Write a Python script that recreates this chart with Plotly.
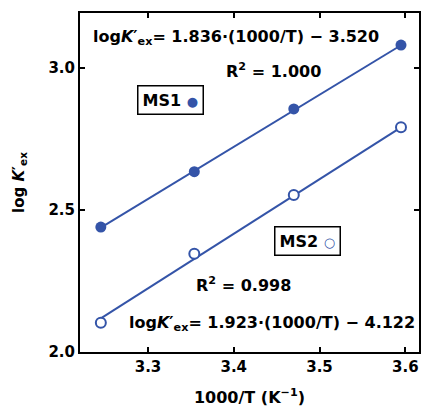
import plotly.graph_objects as go

inv_T = [3.245, 3.354, 3.470, 3.595]
ms1_logK = [2.440, 2.635, 2.856, 3.081]
ms2_logK = [2.103, 2.346, 2.553, 2.792]
fit_ms1 = (1.836, -3.520)
fit_ms2 = (1.923, -4.122)
x_ticks = [3.3, 3.4, 3.5, 3.6]
y_ticks = [2.0, 2.5, 3.0]

blue = "#3454a8"
FONT = "DejaVu Sans"

fig = go.Figure()
xr = [inv_T[0], inv_T[-1]]
for (m, b) in (fit_ms1, fit_ms2):
    fig.add_trace(go.Scatter(x=xr, y=[m * v + b for v in xr], mode="lines",
                             line=dict(color=blue, width=2), showlegend=False, hoverinfo="skip"))
fig.add_trace(go.Scatter(x=inv_T, y=ms1_logK, mode="markers", name="MS1",
                         marker=dict(color=blue, size=11, symbol="circle"), showlegend=False))
fig.add_trace(go.Scatter(x=inv_T, y=ms2_logK, mode="markers", name="MS2",
                         marker=dict(color="white", size=10, symbol="circle",
                                     line=dict(color=blue, width=2)), showlegend=False))

tfont = dict(family=FONT, size=15, color="black", weight="bold")
afont = dict(family=FONT, size=16, color="black", weight="bold")
axis_common = dict(showline=True, linecolor="black", linewidth=2, mirror="ticks",
                   ticks="inside", ticklen=5, tickwidth=2, tickcolor="black",
                   showgrid=False, zeroline=False, automargin=False, tickfont=tfont)
fig.update_xaxes(range=[3.2207, 3.616], tickvals=x_ticks, ticktext=[f"{v:.1f}" for v in x_ticks],
                 title=dict(text="1000/T (K<sup>−1</sup>)", standoff=17,
                            font=dict(family=FONT, size=16, color="black", weight="bold")),
                 **axis_common)
fig.update_yaxes(range=[2.0, 3.194], tickvals=y_ticks, ticktext=[f"{v:.1f}" for v in y_ticks],
                 title=dict(text="log <i>K</i>′<sub>ex</sub>", standoff=20, font=tfont),
                 **axis_common)

W, H = 422, 408
L, T, R, B = 80, 13, 3, 56
def px(xp): return (xp - L) / (W - L - R)
def py(yp): return 1 - (yp - T) / (H - T - B)

def ann(text, x, y, xanchor="left", **kw):
    fig.add_annotation(text=text, x=x, y=y, xref="paper", yref="paper", xanchor=xanchor,
                       yanchor="middle", showarrow=False, font=afont, **kw)

ann("log<i>K</i>′<sub>ex</sub>= 1.836·(1000/T) − 3.520", px(91), py(37))
ann("R<sup>2</sup> = 1.000", px(273), py(70), xanchor="center")
ann("log<i>K</i>′<sub>ex</sub>= 1.923·(1000/T) − 4.122", px(127), py(323))
ann("R<sup>2</sup> = 0.998", px(243), py(284), xanchor="center")
ann(f"MS1 <span style='color:{blue};font-size:13px'>●</span>", px(170.5), py(99.5), xanchor="center",
    bordercolor="black", borderwidth=1.5, borderpad=4, bgcolor="white")
ann(f"MS2 <span style='color:{blue};font-size:13px'>○</span>", px(307.5), py(240.5), xanchor="center",
    bordercolor="black", borderwidth=1.5, borderpad=4, bgcolor="white")

fig.update_layout(width=W, height=H, margin=dict(l=L, r=R, t=T, b=B),
                  plot_bgcolor="white", paper_bgcolor="white")
fig.write_html("out.html", config={"displayModeBar": False},
               post_script="document.body.style.margin='0';document.body.style.overflow='hidden';")
